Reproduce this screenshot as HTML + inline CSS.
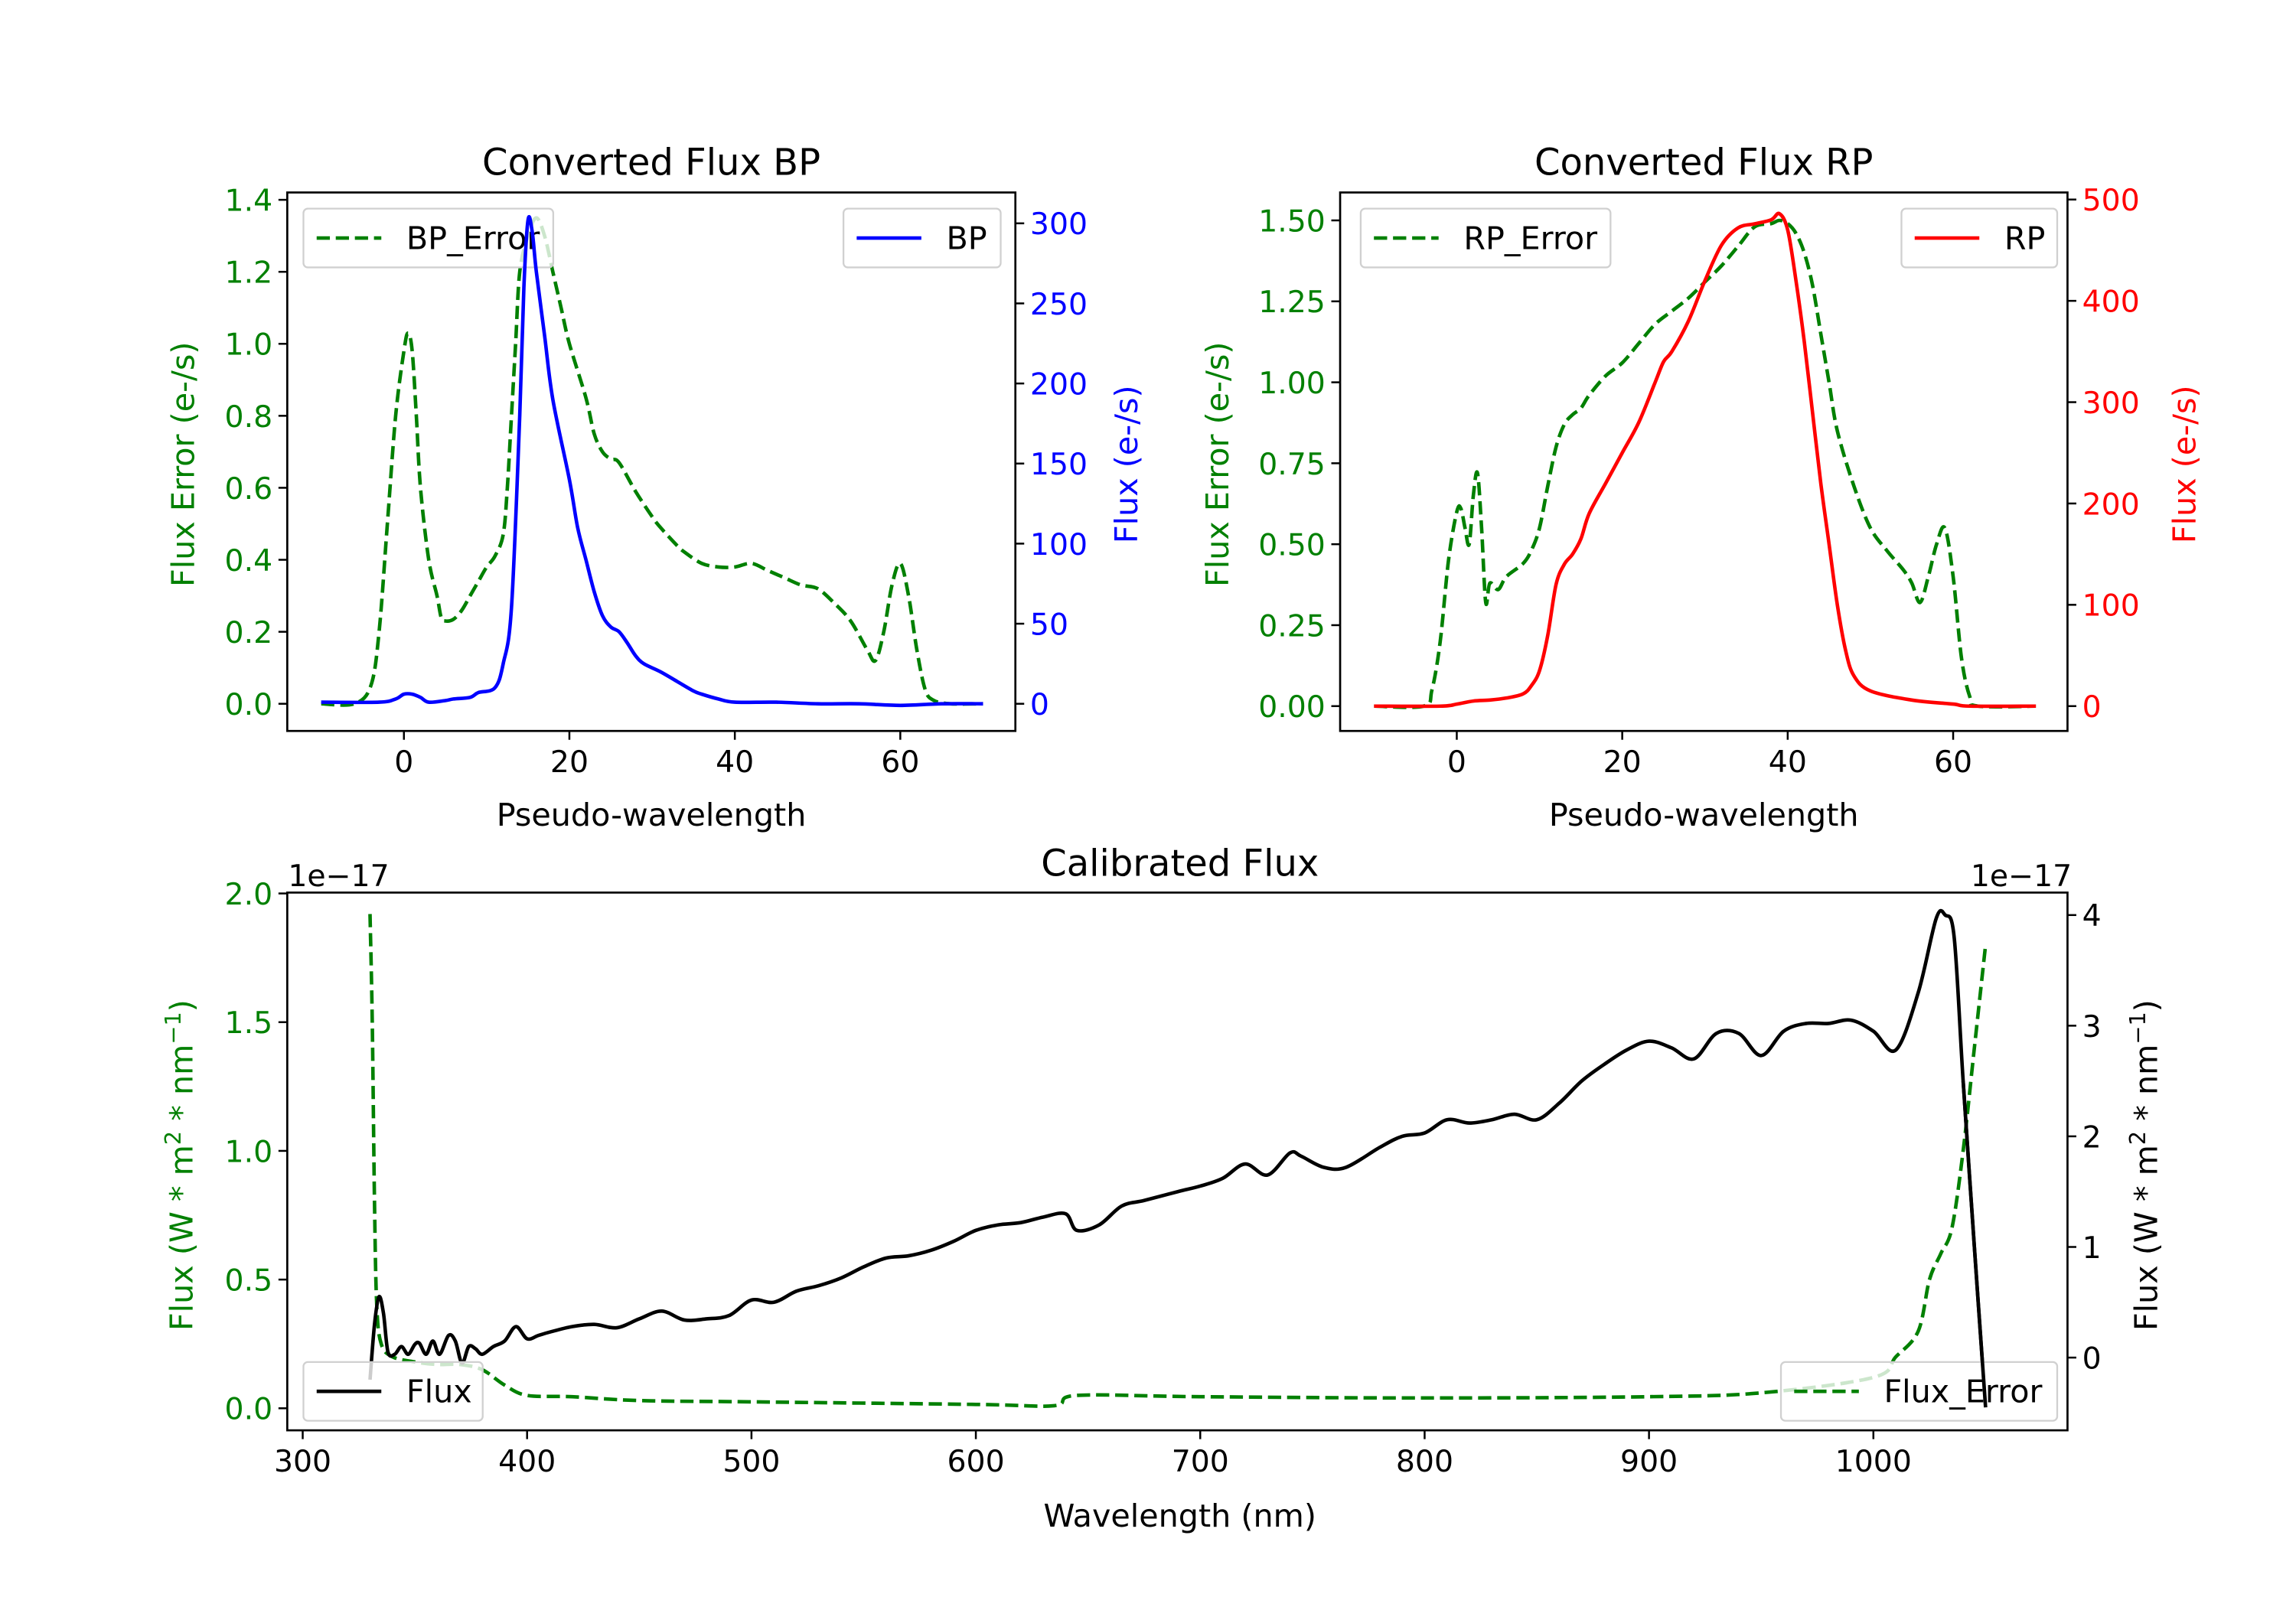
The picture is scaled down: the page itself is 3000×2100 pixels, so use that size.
<!DOCTYPE html>
<html><head><meta charset="utf-8">
<style>html,body{margin:0;padding:0;background:#fff}svg{display:block}
text{font-family:"DejaVu Sans","Liberation Sans",sans-serif}</style></head>
<body>
<svg id="s" width="3000" height="2100" viewBox="0 0 1562.5 1093.75" xmlns="http://www.w3.org/2000/svg">
<rect width="1562.5" height="1093.75" fill="#fff"/>
<g id="g"></g>
</svg>
<script>
const NS="http://www.w3.org/2000/svg";const G=document.getElementById('g');
function el(t,a,txt){const e=document.createElementNS(NS,t);for(const k in a)e.setAttribute(k,a[k]);if(txt!==undefined)e.textContent=txt;G.appendChild(e);return e;}
function txt(x,y,s,o){o=o||{};const a={x:x,y:y,'font-size':o.fs||16.5,fill:o.fill||'#000','text-anchor':o.a||'middle'};if(o.rot)a.transform='rotate('+o.rot+' '+x+' '+y+')';return el('text',a,s);}
function line(pts,fx,fy,o){const P=pts.map(p=>[fx(p[0]),fy(p[1])]);let d='M'+P[0][0].toFixed(2)+' '+P[0][1].toFixed(2);
 for(let i=0;i<P.length-1;i++){const p0=P[Math.max(i-1,0)],p1=P[i],p2=P[i+1],p3=P[Math.min(i+2,P.length-1)];const k=1/6;
  const c1=[p1[0]+(p2[0]-p0[0])*k,p1[1]+(p2[1]-p0[1])*k],c2=[p2[0]-(p3[0]-p1[0])*k,p2[1]-(p3[1]-p1[1])*k];
  d+='C'+c1[0].toFixed(2)+' '+c1[1].toFixed(2)+' '+c2[0].toFixed(2)+' '+c2[1].toFixed(2)+' '+p2[0].toFixed(2)+' '+p2[1].toFixed(2);}
 const a={d:d,fill:'none',stroke:o.c,'stroke-width':o.w||2.4,'stroke-linejoin':'round'};if(o.dash)a['stroke-dasharray']=o.dash;el('path',a);}
function legend(x,y,w,h,label,c,dash){el('rect',{x:x,y:y,width:w,height:h,rx:3,fill:'rgba(255,255,255,0.8)',stroke:'#d0d0d0','stroke-width':1.2});
 const a={x1:x+9,x2:x+53,y1:y+h/2,y2:y+h/2,stroke:c,'stroke-width':2.4};if(dash)a['stroke-dasharray']=dash;el('line',a);
 txt(x+70,y+h/2+7.5,label,{a:'start',fs:21.5});}
function frame(x0,x1,y0,y1){el('rect',{x:x0,y:y0,width:x1-x0,height:y1-y0,fill:'none',stroke:'#000','stroke-width':1.4});}
function ytL(x0,y,s,c){el('line',{x1:x0-6,x2:x0,y1:y,y2:y,stroke:'#000','stroke-width':1.3});txt(x0-10,y+7.5,s,{a:'end',fill:c,fs:20.5});}
function ytR(x1,y,s,c){el('line',{x1:x1,x2:x1+6,y1:y,y2:y,stroke:'#000','stroke-width':1.3});txt(x1+10,y+7.5,s,{a:'start',fill:c,fs:20.5});}
function xt(x,y1,s){el('line',{x1:x,x2:x,y1:y1,y2:y1+6,stroke:'#000','stroke-width':1.3});txt(x,y1+28,s,{fs:20.5});}
const DASH='9 4';const TF=25,LF=21.5;
(function(){const L=195.5,R=691,T=131,B=497.5;
 const fx=v=>L+(v+14.1)*5.63, fy=v=>479-v*245, fy2=v=>479-v*1.09;
 const err=[[-10,0],[-6,0],[-4,0.05],[-3,0.2],[-2,0.5],[-1,0.8],[0,0.98],[0.5,1.03],[1,0.98],[1.5,0.8],[2,0.6],[3,0.4],[4,0.3],[4.5,0.24],[5,0.23],[6,0.235],[7,0.26],[8,0.3],[9,0.34],[10,0.38],[11,0.41],[12,0.47],[12.5,0.6],[13,0.8],[13.5,1.0],[14,1.2],[15,1.3],[16,1.35],[17,1.3],[18,1.2],[19,1.1],[20,1.0],[22,0.85],[23,0.75],[24,0.7],[25,0.68],[26,0.67],[28,0.59],[30,0.52],[31,0.49],[33,0.44],[34,0.42],[36,0.39],[38,0.38],[40,0.38],[42,0.39],[44,0.37],[46,0.35],[48,0.33],[50,0.32],[52,0.28],[54,0.23],[56,0.15],[57,0.12],[58,0.2],[59,0.33],[60,0.39],[61,0.3],[62,0.15],[63,0.04],[64,0.01],[66,0],[70,0]];
 const bp=[[-10,1],[-3,1],[-1,3],[0,6],[1,6],[2,4],[3,1],[5,2],[6,3],[8,4],[9,7],[11,10],[12,25],[13,60],[14,180],[14.5,260],[15,302],[15.5,295],[16,270],[17,230],[18,190],[20,140],[21,110],[22,90],[23,70],[24,55],[25,48],[26,45],[27,38],[28,30],[29,25],[31,20],[33,14],[35,8],[36,6],[38,3],[40,1],[45,1],[50,0],[55,0],[60,-1],[65,0],[70,0]];
 line(err,fx,fy,{c:'#008000',dash:DASH});
 legend(206.5,142,170,40,'BP_Error','#008000',DASH);
 line(bp,fx,fy2,{c:'#0000ff'});
 legend(574,142,107,40,'BP','#0000ff');
 frame(L,R,T,B);
 [0,0.2,0.4,0.6,0.8,1.0,1.2,1.4].forEach(v=>ytL(L,fy(v),v.toFixed(1),'#008000'));
 [0,50,100,150,200,250,300].forEach(v=>ytR(R,fy2(v),''+v,'#0000ff'));
 [0,20,40,60].forEach(v=>xt(fx(v),B,''+v));
 txt((L+R)/2,119,'Converted Flux BP',{fs:TF});
 txt((L+R)/2,562,'Pseudo-wavelength',{fs:LF});
 txt(132,316,'Flux Error (e-/s)',{fs:LF,fill:'#008000',rot:-90});
 txt(774,316,'Flux (e-/s)',{fs:LF,fill:'#0000ff',rot:-90});
})();
(function(){const L=912,R=1407,T=131,B=497.5;
 const fx=v=>L+(v+14.1)*5.63, fy=v=>480.6-v*220.4, fy2=v=>480.6-v*0.6896;
 const err=[[-10,0],[-4,0],[-3,0.05],[-2,0.2],[-1,0.45],[0,0.6],[0.5,0.61],[1,0.55],[1.5,0.5],[2,0.65],[2.5,0.72],[3,0.55],[3.5,0.32],[4,0.38],[5,0.36],[6,0.4],[8,0.44],[9,0.48],[10,0.55],[11,0.68],[12,0.8],[13,0.87],[14,0.9],[15,0.92],[16,0.96],[18,1.02],[20,1.06],[22,1.12],[24,1.18],[26,1.22],[28,1.26],[30,1.31],[32,1.36],[34,1.42],[36,1.48],[38,1.49],[39,1.5],[40,1.49],[41,1.46],[42,1.4],[43,1.3],[44,1.15],[45,1.0],[46,0.85],[48,0.68],[50,0.55],[52,0.48],[54,0.42],[55,0.38],[56,0.32],[57,0.4],[58,0.5],[59,0.55],[60,0.4],[61,0.15],[62,0.03],[63,0],[70,0]];
 const rp=[[-10,0],[-2,0],[0,2],[2,5],[4,6],[6,8],[8,12],[9,20],[10,35],[11,70],[12,120],[13,140],[14,150],[15,165],[16,190],[18,220],[20,250],[22,280],[24,320],[25,340],[26,350],[28,380],[30,420],[32,455],[34,472],[36,476],[38,480],[39,486],[40,470],[41,420],[42,360],[43,290],[44,220],[45,160],[46,100],[47,55],[48,30],[50,15],[55,6],[60,2],[62,0],[70,0]];
 line(err,fx,fy,{c:'#008000',dash:DASH});
 legend(926,142,170,40,'RP_Error','#008000',DASH);
 line(rp,fx,fy2,{c:'#ff0000'});
 legend(1294,142,106,40,'RP','#ff0000');
 frame(L,R,T,B);
 [0,0.25,0.5,0.75,1.0,1.25,1.5].forEach(v=>ytL(L,fy(v),v.toFixed(2),'#008000'));
 [0,100,200,300,400,500].forEach(v=>ytR(R,fy2(v),''+v,'#ff0000'));
 [0,20,40,60].forEach(v=>xt(fx(v),B,''+v));
 txt((L+R)/2,119,'Converted Flux RP',{fs:TF});
 txt((L+R)/2,562,'Pseudo-wavelength',{fs:LF});
 txt(836,316,'Flux Error (e-/s)',{fs:LF,fill:'#008000',rot:-90});
 txt(1494,316,'Flux (e-/s)',{fs:LF,fill:'#ff0000',rot:-90});
})();
(function(){const L=195.5,R=1407,T=607.5,B=973.5;
 const fx=v=>206+(v-300)*1.527, fy=v=>958.5-v*175.2, fy2=v=>924-v*75.3;
 const err=[[330,1.92],[331,1.5],[332,0.8],[333,0.4],[335,0.25],[340,0.2],[350,0.18],[360,0.17],[370,0.17],[380,0.15],[390,0.09],[400,0.05],[420,0.045],[450,0.03],[500,0.025],[600,0.015],[635,0.01],[645,0.05],[700,0.045],[800,0.04],[900,0.045],[950,0.06],[1000,0.12],[1010,0.2],[1020,0.3],[1025,0.5],[1030,0.6],[1035,0.7],[1040,1.0],[1045,1.4],[1050,1.8]];
 const fl=[[330,-0.2],[332,0.3],[334,0.55],[336,0.4],[338,0.05],[341,0.03],[344,0.1],[347,0.03],[350,0.12],[352,0.13],[355,0.03],[358,0.15],[361,0.03],[365,0.2],[368,0.15],[371,-0.05],[374,0.1],[377,0.08],[380,0.03],[385,0.1],[390,0.15],[395,0.28],[400,0.17],[405,0.2],[410,0.23],[420,0.28],[430,0.3],[440,0.27],[450,0.35],[460,0.42],[470,0.34],[480,0.35],[490,0.38],[500,0.52],[510,0.5],[520,0.6],[530,0.65],[540,0.72],[550,0.82],[560,0.9],[570,0.92],[580,0.97],[590,1.05],[600,1.15],[610,1.2],[620,1.22],[630,1.27],[640,1.3],[645,1.15],[655,1.2],[665,1.37],[675,1.42],[690,1.5],[700,1.55],[710,1.62],[720,1.75],[730,1.65],[740,1.85],[745,1.82],[755,1.72],[765,1.72],[780,1.9],[790,2.0],[800,2.03],[810,2.15],[820,2.12],[830,2.15],[840,2.2],[850,2.15],[860,2.3],[870,2.5],[880,2.65],[890,2.78],[900,2.86],[910,2.8],[920,2.7],[930,2.93],[940,2.93],[950,2.73],[960,2.95],[970,3.02],[980,3.02],[990,3.05],[1000,2.95],[1010,2.78],[1020,3.3],[1028,3.97],[1032,4.0],[1036,3.8],[1040,2.5],[1045,1.0],[1050,-0.45]];
 line(err,fx,fy,{c:'#008000',dash:DASH});
 line(fl,fx,fy2,{c:'#000'});
 legend(206.5,927,122,40,'Flux','#000');
 legend(1212,927,188,40,'Flux_Error','#008000',DASH);
 line(fl.filter(p=>p[0]>=1040),fx,fy2,{c:'#000'});
 frame(L,R,T,B);
 [0,0.5,1.0,1.5,2.0].forEach(v=>ytL(L,fy(v),v.toFixed(1),'#008000'));
 [0,1,2,3,4].forEach(v=>ytR(R,fy2(v),''+v,'#000'));
 [300,400,500,600,700,800,900,1000].forEach(v=>xt(fx(v),B,''+v));
 txt(803,596,'Calibrated Flux',{fs:TF});
 txt(196,603,'1e\u221217',{a:'start',fs:20.5});
 txt(1410,603,'1e\u221217',{a:'end',fs:20.5});
 txt(803,1039,'Wavelength (nm)',{fs:LF});
 const sup='<tspan dy="-8" font-size="15">';
 const t1=txt(131,793,'',{fs:LF,fill:'#008000',rot:-90});
 t1.innerHTML='Flux (W * m'+sup+'2</tspan><tspan dy="8"> * nm</tspan>'+sup+'\u22121</tspan><tspan dy="8">)</tspan>';
 const t2=txt(1468,793,'',{fs:LF,fill:'#000',rot:-90});
 t2.innerHTML='Flux (W * m'+sup+'2</tspan><tspan dy="8"> * nm</tspan>'+sup+'\u22121</tspan><tspan dy="8">)</tspan>';
})();
</script>
</body></html>
